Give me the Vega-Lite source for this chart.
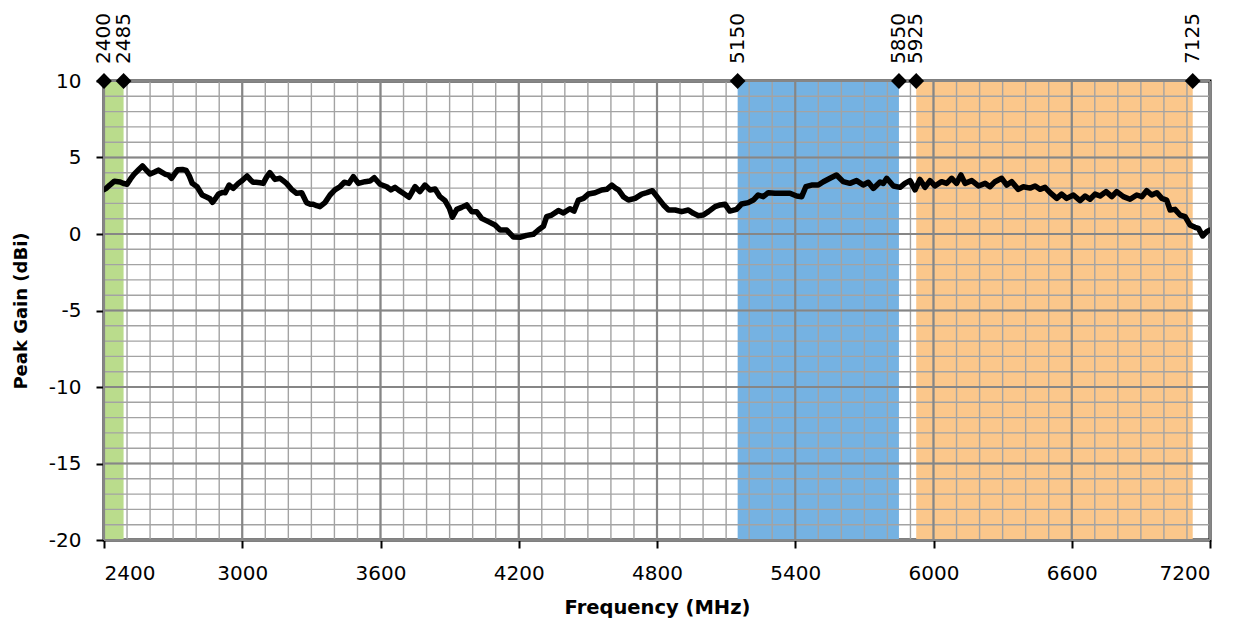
{
  "$schema": "https://vega.github.io/schema/vega-lite/v6.json",
  "width": 1106,
  "height": 459,
  "autosize": "none",
  "padding": {"left": 104, "top": 81, "right": 37, "bottom": 83},
  "background": "white",
  "config": {
    "font": "DejaVu Sans",
    "view": {"stroke": "black", "strokeWidth": 3},
    "axis": {"labelFont": "DejaVu Sans", "titleFont": "DejaVu Sans", "labelColor": "black", "titleColor": "black"}
  },
  "datasets": {
    "gain": [
      {"f":2400,"g":2.9},{"f":2411,"g":3.0},{"f":2425,"g":3.2},{"f":2445,"g":3.45},{"f":2470,"g":3.4},{"f":2485,"g":3.3},{"f":2500,"g":3.25},{"f":2515,"g":3.6},{"f":2530,"g":3.9},{"f":2550,"g":4.2},{"f":2567,"g":4.45},{"f":2585,"g":4.15},{"f":2600,"g":3.92},{"f":2620,"g":4.05},{"f":2636,"g":4.18},{"f":2650,"g":4.05},{"f":2664,"g":3.92},{"f":2680,"g":3.85},{"f":2693,"g":3.64},{"f":2705,"g":3.9},{"f":2720,"g":4.2},{"f":2740,"g":4.22},{"f":2757,"g":4.15},{"f":2770,"g":3.8},{"f":2783,"g":3.31},{"f":2804,"g":3.09},{"f":2826,"g":2.55},{"f":2847,"g":2.4},{"f":2860,"g":2.3},{"f":2871,"g":2.07},{"f":2885,"g":2.35},{"f":2897,"g":2.61},{"f":2915,"g":2.72},{"f":2926,"g":2.7},{"f":2943,"g":3.2},{"f":2961,"g":2.98},{"f":2983,"g":3.31},{"f":3000,"g":3.5},{"f":3021,"g":3.79},{"f":3035,"g":3.55},{"f":3047,"g":3.38},{"f":3060,"g":3.38},{"f":3078,"g":3.35},{"f":3091,"g":3.31},{"f":3105,"g":3.7},{"f":3120,"g":4.01},{"f":3142,"g":3.57},{"f":3164,"g":3.64},{"f":3180,"g":3.45},{"f":3192,"g":3.31},{"f":3214,"g":2.92},{"f":3236,"g":2.66},{"f":3258,"g":2.7},{"f":3279,"g":2.05},{"f":3295,"g":1.95},{"f":3308,"g":1.94},{"f":3323,"g":1.85},{"f":3337,"g":1.79},{"f":3359,"g":2.05},{"f":3381,"g":2.55},{"f":3402,"g":2.88},{"f":3424,"g":3.09},{"f":3443,"g":3.38},{"f":3463,"g":3.31},{"f":3482,"g":3.75},{"f":3504,"g":3.31},{"f":3533,"g":3.42},{"f":3554,"g":3.46},{"f":3573,"g":3.68},{"f":3598,"g":3.25},{"f":3627,"g":3.09},{"f":3645,"g":2.88},{"f":3663,"g":3.05},{"f":3680,"g":2.85},{"f":3699,"g":2.66},{"f":3724,"g":2.4},{"f":3737,"g":2.75},{"f":3750,"g":3.1},{"f":3771,"g":2.77},{"f":3793,"g":3.2},{"f":3815,"g":2.88},{"f":3837,"g":2.94},{"f":3858,"g":2.44},{"f":3880,"g":2.18},{"f":3899,"g":1.68},{"f":3912,"g":1.1},{"f":3931,"g":1.61},{"f":3952,"g":1.74},{"f":3974,"g":1.9},{"f":3996,"g":1.46},{"f":4017,"g":1.46},{"f":4039,"g":1.02},{"f":4068,"g":0.81},{"f":4097,"g":0.59},{"f":4119,"g":0.26},{"f":4148,"g":0.26},{"f":4177,"g":-0.2},{"f":4205,"g":-0.22},{"f":4234,"g":-0.09},{"f":4263,"g":-0.02},{"f":4285,"g":0.26},{"f":4307,"g":0.5},{"f":4321,"g":1.13},{"f":4343,"g":1.24},{"f":4372,"g":1.53},{"f":4394,"g":1.38},{"f":4422,"g":1.65},{"f":4440,"g":1.5},{"f":4459,"g":2.22},{"f":4481,"g":2.33},{"f":4502,"g":2.61},{"f":4531,"g":2.7},{"f":4560,"g":2.88},{"f":4582,"g":2.92},{"f":4604,"g":3.2},{"f":4620,"g":3.0},{"f":4633,"g":2.88},{"f":4654,"g":2.44},{"f":4676,"g":2.22},{"f":4705,"g":2.33},{"f":4734,"g":2.61},{"f":4756,"g":2.7},{"f":4780,"g":2.83},{"f":4806,"g":2.33},{"f":4828,"g":1.9},{"f":4850,"g":1.57},{"f":4879,"g":1.57},{"f":4907,"g":1.46},{"f":4936,"g":1.57},{"f":4958,"g":1.35},{"f":4980,"g":1.2},{"f":5001,"g":1.24},{"f":5023,"g":1.46},{"f":5052,"g":1.79},{"f":5074,"g":1.9},{"f":5095,"g":1.95},{"f":5116,"g":1.5},{"f":5145,"g":1.61},{"f":5167,"g":1.96},{"f":5196,"g":2.05},{"f":5218,"g":2.22},{"f":5239,"g":2.55},{"f":5261,"g":2.44},{"f":5283,"g":2.7},{"f":5312,"g":2.66},{"f":5348,"g":2.66},{"f":5377,"g":2.66},{"f":5406,"g":2.48},{"f":5428,"g":2.44},{"f":5446,"g":3.09},{"f":5471,"g":3.2},{"f":5500,"g":3.2},{"f":5522,"g":3.42},{"f":5551,"g":3.64},{"f":5579,"g":3.86},{"f":5608,"g":3.42},{"f":5637,"g":3.31},{"f":5666,"g":3.49},{"f":5695,"g":3.2},{"f":5717,"g":3.38},{"f":5739,"g":2.98},{"f":5768,"g":3.4},{"f":5782,"g":3.3},{"f":5797,"g":3.64},{"f":5826,"g":3.14},{"f":5855,"g":3.05},{"f":5876,"g":3.31},{"f":5898,"g":3.49},{"f":5920,"g":2.88},{"f":5941,"g":3.57},{"f":5963,"g":3.05},{"f":5985,"g":3.49},{"f":6006,"g":3.14},{"f":6035,"g":3.42},{"f":6057,"g":3.31},{"f":6079,"g":3.64},{"f":6100,"g":3.31},{"f":6119,"g":3.86},{"f":6137,"g":3.31},{"f":6166,"g":3.49},{"f":6195,"g":3.14},{"f":6224,"g":3.31},{"f":6245,"g":3.09},{"f":6267,"g":3.42},{"f":6296,"g":3.64},{"f":6318,"g":3.2},{"f":6339,"g":3.42},{"f":6368,"g":2.92},{"f":6390,"g":3.09},{"f":6419,"g":3.0},{"f":6441,"g":3.14},{"f":6462,"g":2.92},{"f":6484,"g":3.05},{"f":6506,"g":2.7},{"f":6535,"g":2.33},{"f":6556,"g":2.61},{"f":6578,"g":2.33},{"f":6607,"g":2.55},{"f":6636,"g":2.18},{"f":6658,"g":2.48},{"f":6679,"g":2.27},{"f":6701,"g":2.61},{"f":6723,"g":2.48},{"f":6749,"g":2.77},{"f":6774,"g":2.44},{"f":6795,"g":2.77},{"f":6824,"g":2.44},{"f":6853,"g":2.27},{"f":6882,"g":2.55},{"f":6904,"g":2.44},{"f":6925,"g":2.83},{"f":6947,"g":2.55},{"f":6969,"g":2.7},{"f":6991,"g":2.33},{"f":7012,"g":2.22},{"f":7027,"g":1.57},{"f":7048,"g":1.61},{"f":7070,"g":1.24},{"f":7092,"g":1.13},{"f":7113,"g":0.59},{"f":7135,"g":0.44},{"f":7150,"g":0.37},{"f":7168,"g":-0.13},{"f":7186,"g":0.15},{"f":7200,"g":0.26}
    ],
    "bands": [
      {"start": 2400, "end": 2485, "band": "2.4 GHz"},
      {"start": 5150, "end": 5850, "band": "5 GHz"},
      {"start": 5925, "end": 7125, "band": "6 GHz"}
    ],
    "markers": [
      {"f": 2400}, {"f": 2485}, {"f": 5150}, {"f": 5850}, {"f": 5925}, {"f": 7125}
    ],
    "xminor": [
      {"f":2400},{"f":2500},{"f":2600},{"f":2700},{"f":2800},{"f":2900},{"f":3000},{"f":3100},{"f":3200},{"f":3300},{"f":3400},{"f":3500},{"f":3600},{"f":3700},{"f":3800},{"f":3900},{"f":4000},{"f":4100},{"f":4200},{"f":4300},{"f":4400},{"f":4500},{"f":4600},{"f":4700},{"f":4800},{"f":4900},{"f":5000},{"f":5100},{"f":5200},{"f":5300},{"f":5400},{"f":5500},{"f":5600},{"f":5700},{"f":5800},{"f":5900},{"f":6000},{"f":6100},{"f":6200},{"f":6300},{"f":6400},{"f":6500},{"f":6600},{"f":6700},{"f":6800},{"f":6900},{"f":7000},{"f":7100},{"f":7200}
    ],
    "xmajor": [
      {"f":2400},{"f":3000},{"f":3600},{"f":4200},{"f":4800},{"f":5400},{"f":6000},{"f":6600},{"f":7200}
    ],
    "yminor": [
      {"g":-20},{"g":-19},{"g":-18},{"g":-17},{"g":-16},{"g":-15},{"g":-14},{"g":-13},{"g":-12},{"g":-11},{"g":-10},{"g":-9},{"g":-8},{"g":-7},{"g":-6},{"g":-5},{"g":-4},{"g":-3},{"g":-2},{"g":-1},{"g":0},{"g":1},{"g":2},{"g":3},{"g":4},{"g":5},{"g":6},{"g":7},{"g":8},{"g":9},{"g":10}
    ],
    "ymajor": [
      {"g":-20},{"g":-15},{"g":-10},{"g":-5},{"g":0},{"g":5},{"g":10}
    ]
  },
  "layer": [
    {
      "data": {"name": "bands"},
      "mark": {"type": "rect"},
      "encoding": {
        "x": {"field": "start", "type": "quantitative",
          "scale": {"domain": [2400, 7200], "nice": false, "zero": false},
          "axis": {"title": "Frequency (MHz)", "values": [2400,3000,3600,4200,4800,5400,6000,6600,7200], "grid": false, "domain": false,
            "labelExpr": "toString(datum.value)",
            "tickColor": "black", "tickWidth": 2, "tickSize": 8, "labelFontSize": 20, "labelPadding": 15,
            "titleFontSize": 19.5, "titleFontWeight": "bold", "titleY": 67, "titleBaseline": "middle"}},
        "x2": {"field": "end"},
        "y": {"datum": -20, "type": "quantitative",
          "scale": {"domain": [-20, 10], "nice": false, "zero": false},
          "axis": {"title": "Peak Gain (dBi)", "values": [-20,-15,-10,-5,0,5,10], "grid": false, "domain": false,
            "labelExpr": "toString(datum.value)",
            "tickColor": "black", "tickWidth": 2, "tickSize": 8, "labelFontSize": 20, "labelPadding": 15,
            "titleFontSize": 18, "titleFontWeight": "bold", "titleX": -83, "titleBaseline": "middle", "titleAngle": 270}},
        "y2": {"datum": 10},
        "color": {"field": "band", "type": "nominal",
          "scale": {"domain": ["2.4 GHz", "5 GHz", "6 GHz"], "range": ["#badc8c", "#75b2e2", "#fbc78b"]},
          "legend": null}
      }
    },
    {
      "data": {"name": "xminor"},
      "mark": {"type": "rule", "color": "#a3a3a3", "strokeWidth": 1.4},
      "encoding": {"x": {"field": "f", "type": "quantitative"}}
    },
    {
      "data": {"name": "yminor"},
      "mark": {"type": "rule", "color": "#a3a3a3", "strokeWidth": 1.4},
      "encoding": {"y": {"field": "g", "type": "quantitative"}}
    },
    {
      "data": {"name": "xmajor"},
      "mark": {"type": "rule", "color": "#868686", "strokeWidth": 2.2},
      "encoding": {"x": {"field": "f", "type": "quantitative"}}
    },
    {
      "data": {"name": "ymajor"},
      "mark": {"type": "rule", "color": "#868686", "strokeWidth": 2.2},
      "encoding": {"y": {"field": "g", "type": "quantitative"}}
    },
    {
      "data": {"name": "gain"},
      "mark": {"type": "line", "color": "black", "strokeWidth": 5.5, "strokeJoin": "round", "strokeCap": "round", "clip": true},
      "encoding": {
        "x": {"field": "f", "type": "quantitative"},
        "y": {"field": "g", "type": "quantitative"}
      }
    },
    {
      "data": {"name": "markers"},
      "mark": {"type": "point", "shape": "diamond", "filled": true, "color": "black", "size": 250, "opacity": 1},
      "encoding": {
        "x": {"field": "f", "type": "quantitative"},
        "y": {"datum": 10}
      }
    },
    {
      "data": {"name": "markers"},
      "mark": {"type": "text", "angle": 270, "align": "left", "baseline": "middle", "dx": 17, "fontSize": 20, "font": "DejaVu Sans", "color": "black"},
      "encoding": {
        "x": {"field": "f", "type": "quantitative"},
        "y": {"datum": 10},
        "text": {"field": "f", "type": "quantitative", "format": "d"}
      }
    }
  ]
}
